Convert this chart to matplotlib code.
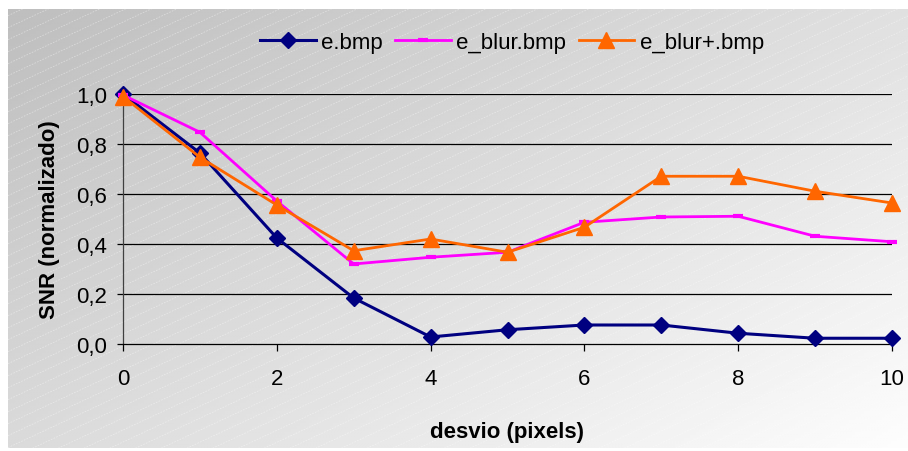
import matplotlib
matplotlib.use('Agg')
import matplotlib.pyplot as plt
import numpy as np
from matplotlib.collections import LineCollection

plt.rcParams['font.family'] = ['Liberation Sans', 'DejaVu Sans']

# deslocamento em pixels e SNR normalizado de cada imagem
desvio = [0, 1, 2, 3, 4, 5, 6, 7, 8, 9, 10]
snr_e = [1.0, 0.764, 0.424, 0.184, 0.028, 0.057, 0.076, 0.076, 0.043, 0.023, 0.023]
snr_blur = [0.996, 0.847, 0.572, 0.32, 0.347, 0.367, 0.487, 0.508, 0.511, 0.431, 0.409]
snr_blur_plus = [0.99, 0.747, 0.556, 0.373, 0.42, 0.367, 0.467, 0.671, 0.671, 0.611, 0.564]

xticks = [0, 2, 4, 6, 8, 10]
yticks = [0.0, 0.2, 0.4, 0.6, 0.8, 1.0]
ytick_labels = ['0,0', '0,2', '0,4', '0,6', '0,8', '1,0']

W, H = 908, 452
fig = plt.figure(figsize=(W / 100, H / 100), dpi=100)
fig.patch.set_facecolor('white')

# fundo em degrade cinza -> branco
bg = fig.add_axes([8 / W, 3 / H, 900 / W, 439 / H])
u = np.linspace(0, 1, 300)[None, :]
v = np.linspace(0, 1, 150)[:, None]
tons = (190 + 34 * u + 28 * v + 1 * u * v) / 255.0
bg.imshow(tons, cmap='gray', vmin=0, vmax=1, aspect='auto', extent=[0, 1, 0, 1],
          interpolation='bilinear')
# riscas diagonais claras
segs = []
ang = np.tan(np.deg2rad(25)) * 900 / 439
for c in np.arange(-ang, 1.0, 12 / 439):
    segs.append([(0, c), (1, c + ang)])
bg.add_collection(LineCollection(segs, colors='white', linewidths=0.6, alpha=0.4,
                                 linestyles=(0, (2, 1.5))))
bg.set_xlim(0, 1)
bg.set_ylim(0, 1)
bg.axis('off')

ax = fig.add_axes([123 / W, 107 / H, 769 / W, 250 / H])
ax.set_facecolor('none')

for yv in yticks[1:]:
    ax.axhline(yv, color='black', lw=0.9, zorder=1)

ax.plot(desvio, snr_e, color='#000080', lw=2.2, marker='D', markersize=8,
        label='e.bmp', clip_on=False, zorder=3)
ax.plot(desvio, snr_blur, color='#FF00FF', lw=2.0, marker='_', markersize=7,
        markeredgewidth=3, label='e_blur.bmp', clip_on=False, zorder=4)
ax.plot(desvio, snr_blur_plus, color='#FF6600', lw=2.0, marker='^', markersize=11,
        label='e_blur+.bmp', clip_on=False, zorder=5)

ax.set_xlim(0, 10)
ax.set_ylim(0, 1)
ax.set_xticks(xticks)
ax.set_yticks(yticks)
ax.set_yticklabels(ytick_labels)
ax.tick_params(axis='both', labelsize=16, colors='black', width=0.9)
ax.tick_params(axis='x', length=5, pad=12)
ax.tick_params(axis='y', length=4.5, pad=7)

for s in ['top', 'right']:
    ax.spines[s].set_visible(False)
ax.spines['bottom'].set_color('black')
ax.spines['bottom'].set_linewidth(0.9)
ax.spines['left'].set_color('#404040')
ax.spines['left'].set_linewidth(0.9)

ax.set_xlabel('desvio (pixels)', fontsize=16, fontweight='bold')
ax.set_ylabel('SNR (normalizado)', fontsize=16, fontweight='bold')
ax.xaxis.set_label_coords(0.5, -0.352)
ax.yaxis.set_label_coords(-0.095, 0.5)
ax.xaxis.label.set_va('center')
ax.yaxis.label.set_va('center')

ax.legend(loc='center', bbox_to_anchor=(512 / W, 1 - 43 / H), bbox_transform=fig.transFigure,
          ncol=3, frameon=False, fontsize=16, handlelength=2.5, handletextpad=0.25,
          columnspacing=0.55, borderpad=0)

fig.savefig('out.png', dpi=100)
